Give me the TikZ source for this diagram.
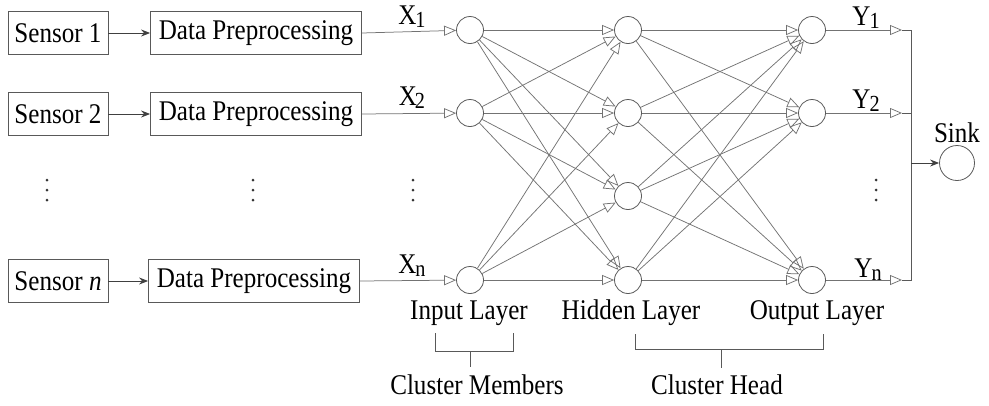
\documentclass[tikz,border=0pt]{standalone}
\usepackage{fontspec}
\setmainfont[FakeStretch=0.88]{Liberation Serif}
\usetikzlibrary{arrows.meta}
\begin{document}
\begin{tikzpicture}[x=1pt,y=-1pt,
  every node/.style={font=\fontsize{28.5}{30}\selectfont},
  sbox/.style={draw=black!65, line width=0.8pt, minimum width=100pt, minimum height=43pt, inner sep=0pt},
  pbox/.style={draw=black!65, line width=0.8pt, minimum width=211pt, minimum height=43pt, inner sep=0pt},
  neuron/.style={circle, draw=black!65, line width=0.8pt, minimum size=27pt, inner sep=0pt},
  feed/.style={draw=black!75, line width=0.9pt, -{Stealth[length=9pt,width=7pt]}},
  wire/.style={draw=black!55, line width=0.75pt, -{Triangle[open,length=12pt,width=10pt]}},
  plain/.style={draw=black!65, line width=0.8pt},
]
\useasboundingbox (0,0) rectangle (989,405);

% sensors and preprocessing blocks
\node[sbox] (s1) at (58,33) {Sensor 1};
\node[sbox] (s2) at (58,114) {Sensor 2};
\node[sbox] (sn) at (58,281) {Sensor \textit{n}};
\node[pbox] (p1) at (256,33) {Data Preprocessing};
\node[pbox] (p2) at (256,114) {Data Preprocessing};
\node[pbox] (pn) at (254,281) {Data Preprocessing};
\draw[feed] (s1) -- (p1);
\draw[feed] (s2) -- (p2);
\draw[feed] (sn) -- (pn);

% vertical ellipses
\foreach \x in {47,253,413,876}
  \foreach \y in {180,190,200}
    \fill[black!80] (\x,\y) circle (1.5pt);

% input layer
\node[neuron] (i1) at (470,30) {};
\node[neuron] (i2) at (470,113) {};
\node[neuron] (in) at (470,280) {};

% hidden layer
\node[neuron] (h1) at (628,30) {};
\node[neuron] (h2) at (628,113) {};
\node[neuron] (h3) at (628,196) {};
\node[neuron] (h4) at (628,280) {};

% output layer
\node[neuron] (o1) at (812,30) {};
\node[neuron] (o2) at (812,113) {};
\node[neuron] (on) at (812,280) {};

% sink
\node[neuron, minimum size=35pt] (sink) at (957,163) {};
\node (sinklbl) at (957,133) {Sink};

% inputs to the network
\draw[wire] (p1.east) -- (i1);
\draw[wire] (p2.east) -- (i2);
\draw[wire] (pn.east) -- (in);
\node (x1) at (412,17) {X\kern-1pt\raisebox{-3pt}{\fontsize{23}{23}\selectfont 1}};
\node (x2) at (412,98) {X\kern-2pt\raisebox{-3pt}{\fontsize{23}{23}\selectfont 2}};
\node (xn) at (412,266) {X\kern-1pt\raisebox{-3pt}{\fontsize{23}{23}\selectfont n}};

% input -> hidden
\foreach \a in {i1,i2,in}
  \foreach \b in {h1,h2,h3,h4}
    \draw[wire] (\a) -- (\b);

% hidden -> output
\foreach \a in {h1,h2,h3,h4}
  \foreach \b in {o1,o2,on}
    \draw[wire] (\a) -- (\b);

% outputs to the sink bus
\coordinate (t1) at (902,30);
\coordinate (t2) at (902,113);
\coordinate (tn) at (902,280);
\coordinate (b1) at (911,30);
\coordinate (b2) at (911,113);
\coordinate (bn) at (911,280);
\coordinate (bm) at (911,163);
\draw[wire] (o1) -- (t1);
\draw[wire] (o2) -- (t2);
\draw[wire] (on) -- (tn);
\draw[plain] (t1) -- (b1) -- (bn) -- (tn);
\draw[plain] (t2) -- (b2);
\draw[feed] (bm) -- (sink);
\node (y1) at (866,18) {Y\kern-1pt\raisebox{-3pt}{\fontsize{23}{23}\selectfont 1}};
\node (y2) at (866,101) {Y\kern-1pt\raisebox{-3pt}{\fontsize{23}{23}\selectfont 2}};
\node (yn) at (868,270) {Y\kern-1pt\raisebox{-3pt}{\fontsize{23}{23}\selectfont n}};

% layer captions
\node (lin) at (469,313) {Input Layer};
\node (lhid) at (631,313) {Hidden Layer};
\node (lout) at (817,313) {Output Layer};

% grouping brackets
\coordinate (ma) at (435,333);
\coordinate (mb) at (513,333);
\coordinate (ha) at (635,334);
\coordinate (hb) at (823,334);
\draw[plain] (ma) -- ++(0,18) coordinate (ma2) -- (mb |- ma2) -- (mb);
\draw[plain] (470,351) -- (470,367);
\draw[plain] (ha) -- ++(0,15) coordinate (ha2) -- (hb |- ha2) -- (hb);
\draw[plain] (721,349) -- (721,368);
\node (cm) at (477,385) {Cluster Members};
\node (ch) at (717,385) {Cluster Head};
\end{tikzpicture}
\end{document}
